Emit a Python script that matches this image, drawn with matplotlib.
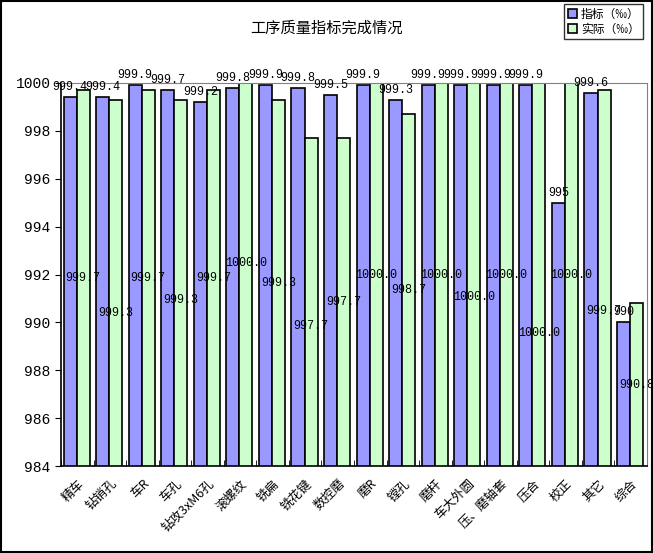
import matplotlib
matplotlib.use("Agg")
import matplotlib.pyplot as plt
import numpy as np

plt.rcParams['font.family'] = ['Noto Sans CJK SC', 'DejaVu Sans']

# process names along the x axis
processes = ['精车', '钻销孔', '车R', '车孔', '钻攻3xM6孔', '滚螺纹', '铣扁', '铣花键', '数控磨',
             '磨R', '镗孔', '磨杆', '车大外圆', '压、磨轴套', '压合', '校正', '其它', '综合']
# target values (per mille)
target = [999.4, 999.4, 999.9, 999.7, 999.2, 999.8, 999.9, 999.8, 999.5,
          999.9, 999.3, 999.9, 999.9, 999.9, 999.9, 995, 999.6, 990]
target_txt = ['999.4', '999.4', '999.9', '999.7', '999.2', '999.8', '999.9', '999.8', '999.5',
              '999.9', '999.3', '999.9', '999.9', '999.9', '999.9', '995', '999.6', '990']
# actual values (per mille)
actual = [999.7, 999.3, 999.7, 999.3, 999.7, 1000.0, 999.3, 997.7, 997.7,
          1000.0, 998.7, 1000.0, 1000.0, 1000.0, 1000.0, 1000.0, 999.7, 990.8]

# the chart staggers some of the "actual" labels so they don't collide (pixels, down)
label_shift = [0, 30, 0, 17, 0, -12, 0, 24, 0, 0, 0, 0, 23, 0, 58, 0, 33, 0]

ymin, ymax = 984, 1000
mono = ['Liberation Mono', 'DejaVu Sans Mono']

fig = plt.figure(figsize=(6.53, 5.53), dpi=100)
ax = fig.add_axes([61/653, 1 - 466/553, (647-61)/653, (466-83)/553])

x = np.arange(len(processes))
w = 0.4
b1 = ax.bar(x - w/2 - 0.02, target, width=w, color='#9999FF', edgecolor='black', linewidth=1.2)
b2 = ax.bar(x + w/2 - 0.02, actual, width=w, color='#CCFFCC', edgecolor='black', linewidth=1.2)
ax.set_ylim(ymin, ymax)
ax.set_xlim(-0.5, len(processes) - 0.5)

# labels: target above the bar top, actual in the middle of the visible bar
for i in range(len(processes)):
    ax.annotate(target_txt[i], (x[i] - w/2 - 0.02, target[i]), xytext=(0, 4),
                textcoords='offset pixels', ha='center', va='bottom', fontsize=8.5,
                family=mono, annotation_clip=False)
    ax.annotate(f"{actual[i]:.1f}", (x[i] + w/2 - 0.02, (ymin + actual[i]) / 2),
                xytext=(0, -label_shift[i]), textcoords='offset pixels',
                ha='center', va='center', fontsize=8.5, family=mono)

ax.set_yticks(np.arange(ymin, ymax + 1, 2))
ax.set_yticklabels([str(v) for v in range(ymin, ymax + 1, 2)], family=mono, fontsize=10.5)
ax.tick_params(axis='y', direction='out', length=4)
ax.set_xticks(x)
ax.set_xticklabels(processes, rotation=45, ha='right', rotation_mode='anchor', fontsize=9)
ax.tick_params(axis='x', length=0, pad=8)
# small inward ticks between categories
ax.set_xticks(np.arange(-0.5, len(processes)), minor=True)
ax.tick_params(axis='x', which='minor', direction='in', length=4)

for s in ['top', 'right']:
    ax.spines[s].set_color('#808080')
for s in ['left', 'bottom']:
    ax.spines[s].set_color('black')
    ax.spines[s].set_linewidth(1.2)

fig.text(0.5, 1 - 28/553, '工序质量指标完成情况', ha='center', va='center', fontsize=11)

leg = fig.legend([b1, b2], ['指标（‰）', '实际（‰）'], loc='upper right',
                 bbox_to_anchor=(643/653, 1 - 4/553), fontsize=8.5, frameon=True,
                 fancybox=False, edgecolor='black', handlelength=0.8, handleheight=0.8,
                 handletextpad=0.3, borderpad=0.3, labelspacing=0.2, borderaxespad=0)
leg.get_frame().set_linewidth(1)

# outer black frame of the chart
fig.patches.append(plt.Rectangle((0.002, 0.002), 0.996, 0.996, transform=fig.transFigure,
                                 fill=False, edgecolor='black', linewidth=1.5))

fig.savefig('out.png', dpi=100)
